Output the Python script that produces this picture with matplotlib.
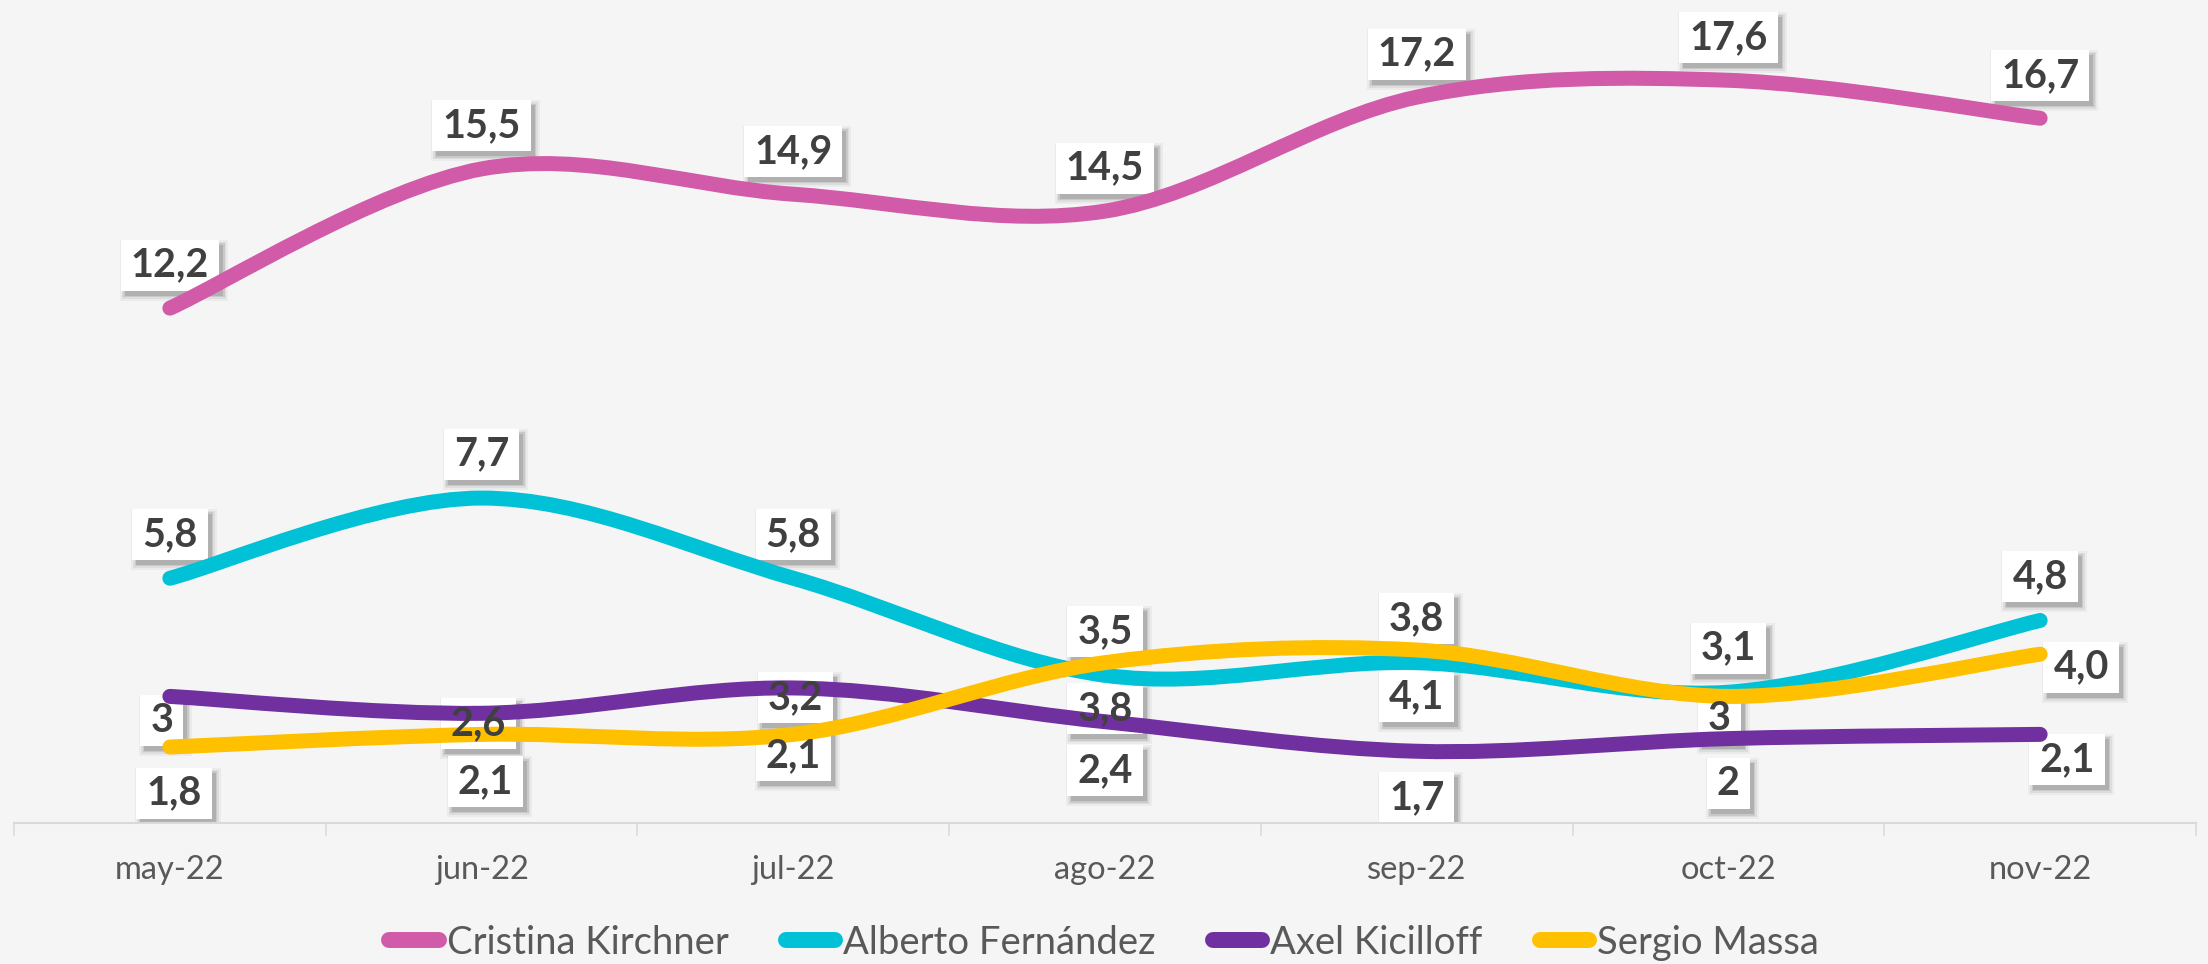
import matplotlib
matplotlib.use("Agg")
import matplotlib.pyplot as plt
from matplotlib.path import Path
from matplotlib.patches import PathPatch, Rectangle
from matplotlib.lines import Line2D
from matplotlib.transforms import IdentityTransform

# ---------------- data ----------------
months = ["may-22", "jun-22", "jul-22", "ago-22", "sep-22", "oct-22", "nov-22"]
series_names = ["Cristina Kirchner", "Alberto Fernández", "Axel Kicilloff", "Sergio Massa"]
cristina = [12.2, 15.5, 14.9, 14.5, 17.2, 17.6, 16.7]
alberto = [5.8, 7.7, 5.8, 3.5, 3.8, 3.1, 4.8]
axel = [3, 2.6, 3.2, 2.4, 1.7, 2, 2.1]
massa = [1.8, 2.1, 2.1, 3.8, 4.1, 3, 4.0]

# ---------------- style / layout ----------------
colors = ["#D15BA8", "#00C1D6", "#7030A0", "#FFC000"]
BG = "#F5F5F5"
# label offsets in pixels (dx, dy), dy positive = up
label_offsets = [
    [(0, 43)] * 7,
    [(0, 44)] * 7,
    [(-8, -24), (-3, -10), (2, -10), (0, -49), (0, -46), (0, -45), (27, -25)],
    [(4, -46), (4, -47), (0, -21), (0, -46), (0, -47), (-9, -22), (41, -13)],
]

FONT = ["Lato", "DejaVu Sans"]
plt.rcParams["font.family"] = FONT

W, H = 2208, 964
fig = plt.figure(figsize=(W / 100, H / 100), dpi=100, facecolor=BG)
ax_left, ax_right = 14, 2196
ax_bottom = 823
ax = fig.add_axes([ax_left / W, (H - ax_bottom) / H, (ax_right - ax_left) / W, ax_bottom / H])
ax.set_facecolor(BG)
ymax = ax_bottom / 42.2
ax.set_xlim(-0.5, len(months) - 0.5)
ax.set_ylim(0, ymax)

for s in ["top", "right", "left"]:
    ax.spines[s].set_visible(False)
ax.spines["bottom"].set_color("#D9D9D9")
ax.spines["bottom"].set_linewidth(1.5)
ax.set_yticks([])

x = list(range(len(months)))
ax.set_xticks([i - 0.5 for i in range(len(months) + 1)])
ax.set_xticklabels([])
ax.tick_params(axis="x", which="major", length=9, width=1.1, color="#D9D9D9")
ax.set_xticks(x, minor=True)
ax.set_xticklabels(months, minor=True, fontsize=23.5, color="#595959")
ax.tick_params(axis="x", which="minor", length=0, pad=23)


def smooth_path(xs, ys):
    """Excel-like smoothed line as cubic Bezier path (Catmull-Rom control points)."""
    pts = list(zip(xs, ys))
    n = len(pts)
    verts = [pts[0]]
    codes = [Path.MOVETO]
    for i in range(n - 1):
        p0 = pts[i - 1] if i > 0 else pts[i]
        p1 = pts[i]
        p2 = pts[i + 1]
        p3 = pts[i + 2] if i + 2 < n else pts[i + 1]
        c1 = (p1[0] + (p2[0] - p0[0]) / 6, p1[1] + (p2[1] - p0[1]) / 6)
        c2 = (p2[0] - (p3[0] - p1[0]) / 6, p2[1] - (p3[1] - p1[1]) / 6)
        verts += [c1, c2, p2]
        codes += [Path.CURVE4] * 3
    return Path(verts, codes)


all_series = [cristina, alberto, axel, massa]
for k, (vals, col) in enumerate(zip(all_series, colors)):
    patch = PathPatch(smooth_path(x, vals), facecolor="none", edgecolor=col,
                      lw=10.8, capstyle="round", joinstyle="round", zorder=3 + k * 0.1)
    ax.add_patch(patch)


def fmt(v):
    if isinstance(v, int):
        return str(v)
    return f"{v:.1f}".replace(".", ",")


label_texts = []
for k, vals in enumerate(all_series):
    for i, v in enumerate(vals):
        dx, dy = label_offsets[k][i]
        t = ax.annotate(fmt(v), (i, v), xytext=(dx, dy), textcoords="offset pixels",
                        ha="center", va="center", fontsize=28.5, fontweight="bold",
                        color="#404040", zorder=6)
        label_texts.append(t)

handles = [Line2D([], [], color=c, lw=11.5, solid_capstyle="round") for c in colors]
leg = fig.legend(handles, series_names, loc="center", bbox_to_anchor=(0.5, 0.022),
                 ncol=4, frameon=False, fontsize=27.5, handlelength=1.3, handletextpad=0.2,
                 columnspacing=1.5, borderaxespad=0, borderpad=0)
for t in leg.get_texts():
    t.set_color("#595959")

# white label boxes with soft drop shadow, sized from the rendered text extents
fig.canvas.draw()
renderer = fig.canvas.get_renderer()
PX, PY = 10, 7
for t in label_texts:
    bb = t.get_window_extent(renderer)
    x0, y0, w, h = bb.x0 - PX, bb.y0 - PY, bb.width + 2 * PX, bb.height + 2 * PY
    for grow, alpha in [(5, 0.04), (3, 0.06), (1.5, 0.09), (0, 0.12)]:
        ax.add_patch(Rectangle((x0 + 4 - grow, y0 - 5 - grow), w + 2 * grow, h + 2 * grow,
                               transform=IdentityTransform(), fc=(0, 0, 0, alpha), ec="none",
                               zorder=2))
    ax.add_patch(Rectangle((x0, y0), w, h, transform=IdentityTransform(), fc="white",
                           ec="none", zorder=2.5))

fig.savefig("out.png", dpi=100, facecolor=BG)
